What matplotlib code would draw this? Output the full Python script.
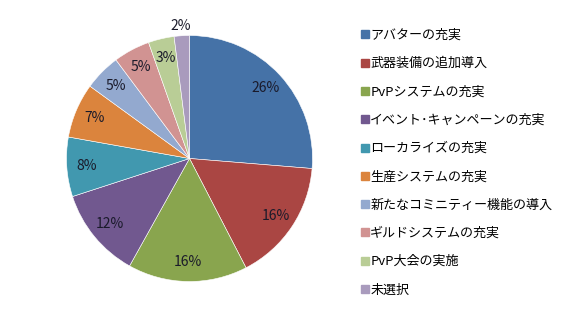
import matplotlib
matplotlib.use("Agg")
import matplotlib.pyplot as plt
from matplotlib.lines import Line2D
import numpy as np

plt.rcParams['font.family'] = ['Noto Sans CJK JP', 'DejaVu Sans']

categories = ["アバターの充実", "武器装備の追加導入", "PvPシステムの充実",
              "イベント･キャンペーンの充実", "ローカライズの充実", "生産システムの充実",
              "新たなコミニティー機能の導入", "ギルドシステムの充実", "PvP大会の実施", "未選択"]
values = [26.3, 16.1, 15.7, 11.9, 7.8, 7.2, 4.8, 4.8, 3.4, 2.0]
colors = ["#4572A7", "#AA4643", "#89A54E", "#71588F", "#4198AF", "#DB843D",
          "#93A9CF", "#D19392", "#B9CD96", "#A99BBD"]

W, H = 579, 315
fig = plt.figure(figsize=(W / 100, H / 100), dpi=100)
r = 123
cx, cy = 189.5, 158.5
ax = fig.add_axes([(cx - r) / W, 1 - (cy + r) / H, 2 * r / W, 2 * r / H])
wedges, texts, autotexts = ax.pie(values, colors=colors, startangle=90, counterclock=False,
                                  autopct=lambda p: f"{p:.0f}%", pctdistance=0.84,
                                  radius=1.0, wedgeprops=dict(linewidth=0.4, edgecolor="white"),
                                  textprops=dict(fontsize=10, color="#1a1a2a"))
ax.set_xlim(-1, 1)
ax.set_ylim(-1, 1)
ax.set_aspect("equal")
tot = sum(values)
ang = 90 - 360 * (tot - values[-1] / 2) / tot
autotexts[-1].set_position((1.08 * np.cos(np.radians(ang)), 1.08 * np.sin(np.radians(ang))))
for t in autotexts:
    t.set_clip_on(False)

handles = [Line2D([], [], marker="s", linestyle="none", markersize=5.4,
                  markerfacecolor=c, markeredgecolor=c) for c in colors]
fig.legend(handles, categories, loc="upper left", bbox_to_anchor=(361 / W, 1 - 29 / H),
           frameon=False, fontsize=9.4, handlelength=0.55, handletextpad=0.15,
           labelspacing=1.17, borderaxespad=0, borderpad=0)

fig.savefig("out.png", dpi=100)
